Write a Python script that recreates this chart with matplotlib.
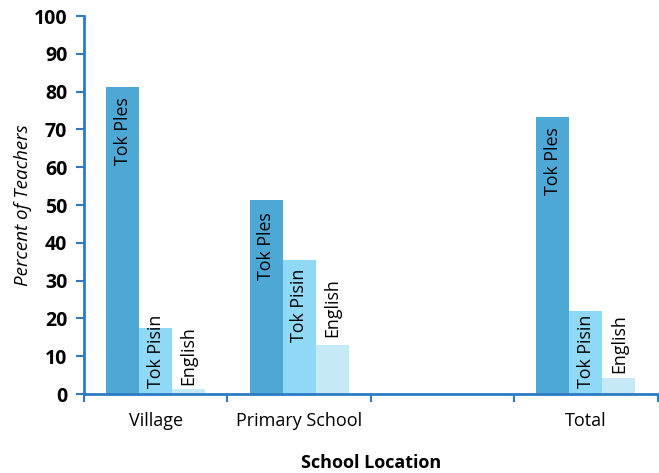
import matplotlib
matplotlib.use('Agg')
import matplotlib.pyplot as plt
import numpy as np

matplotlib.rcParams['font.family'] = ['Open Sans', 'DejaVu Sans']

# data
locations = ['Village', 'Primary School', '', 'Total']
languages = ['Tok Ples', 'Tok Pisin', 'English']
tok_ples = [81.3, 51.3, np.nan, 73.4]
tok_pisin = [17.5, 35.4, np.nan, 22.0]
english = [1.3, 13.0, np.nan, 4.3]
# where the bottom of each rotated label sits (percent units)
label_bottom = [[60.6, 30.2, None, 52.6],
                [1.6, 13.8, None, 1.6],
                [2.4, 15.1, None, 5.6]]

colors = ['#4DA8D6', '#8FD8F6', '#C6E9F8']
axis_color = '#2C7BC3'

fig = plt.figure(figsize=(6.59, 4.73), dpi=100)
ax = fig.add_axes([0.1275, 0.167, 0.8705, 0.799])

x = np.arange(len(locations)) + 0.5
w = 0.23
series = [tok_ples, tok_pisin, english]
for i, vals in enumerate(series):
    xs = x + (i - 1) * w
    ax.bar(xs, vals, width=w, color=colors[i], linewidth=0)
    for j, v in enumerate(vals):
        if np.isnan(v):
            continue
        ax.text(xs[j], label_bottom[i][j], languages[i], rotation=90,
                ha='center', va='bottom', fontsize=12.8, color='black')

ax.set_xlim(0, 4)
ax.set_ylim(0, 100)
ax.set_yticks(range(0, 101, 10))
ax.set_yticklabels([str(t) for t in range(0, 101, 10)], fontsize=14, fontweight='bold')

ax.set_xticks(range(0, 5))
ax.set_xticklabels([])
ax.set_xticks(x, minor=True)
ax.set_xticklabels(locations, minor=True, fontsize=13)
ax.tick_params(axis='x', which='minor', length=0, pad=13)

for s in ['top', 'right']:
    ax.spines[s].set_visible(False)
for s in ['left', 'bottom']:
    ax.spines[s].set_color(axis_color)
    ax.spines[s].set_linewidth(2)
ax.tick_params(axis='both', which='major', color=axis_color, width=1.5, length=6)
ax.tick_params(axis='y', pad=6)

ax.set_ylabel('Percent of Teachers', fontsize=13.5, style='italic', labelpad=1)
ax.set_xlabel('School Location', fontsize=13, fontweight='bold', labelpad=17)

plt.savefig('out.png', dpi=100)
